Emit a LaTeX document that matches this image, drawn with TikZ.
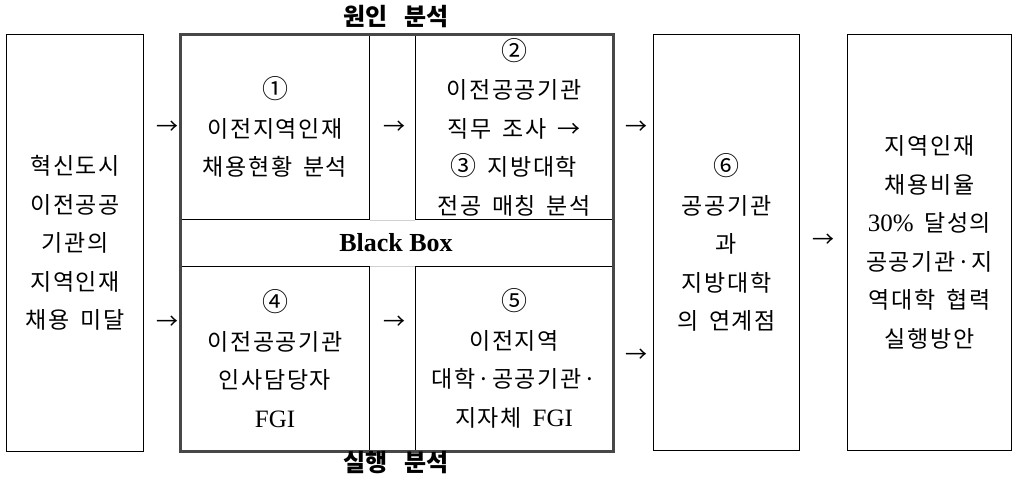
\documentclass[tikz,border=0pt]{standalone}
\usepackage{fontspec}
\setmainfont{Liberation Serif}
\newfontfamily\kr[LetterSpace=7,WordSpace=1.6]{Noto Sans CJK KR}
\newfontfamily\krt{Noto Sans CJK KR}
\newfontfamily\krtb[WordSpace=3]{Noto Sans CJK KR}
\newfontfamily\lt{Liberation Serif}
\newcommand\Lx[1]{{\lt\fontsize{25}{38}\selectfont #1}}
\newcommand\Cn[1]{{\krt\fontsize{26}{38}\selectfont #1}}
\tikzset{
  box/.style={draw=black, line width=1pt, anchor=north west, inner sep=0pt,
    align=center, font=\kr\fontsize{23}{38.5}\selectfont},
  arr/.style={font=\krt\fontsize{22}{26}\selectfont, inner sep=0pt},
  ttl/.style={font=\krtb\bfseries\fontsize{24}{26}\selectfont, inner sep=0pt},
  outerbox/.style={draw=black!72, line width=3pt},
  gapline/.style={draw=black!18, line width=1pt}
}
\begin{document}
\begin{tikzpicture}[x=1pt,y=-1pt]
\useasboundingbox (0,0) rectangle (1015,480);
% left box
\node[box, minimum width=137pt, minimum height=417pt] (L) at (6,34)
  {혁신도시\\이전공공\\기관의\\지역인재\\채용 미달};
% inner boxes
\node[box, minimum width=189pt, minimum height=185pt] (b1) at (180,34)
  {\Cn{①}\\이전지역인재\\채용현황 분석};
\node[box, minimum width=197pt, minimum height=185pt] (b2) at (415,34)
  {\Cn{②}\\이전공공기관\\직무 조사 →\\\Cn{③} 지방대학\\전공 매칭 분석};
\node[box, minimum width=189pt, minimum height=184pt] (b4) at (180,266)
  {\Cn{④}\\이전공공기관\\인사담당자\\\Lx{FGI}};
\node[box, minimum width=197pt, minimum height=184pt] (b5) at (415,266)
  {\Cn{⑤}\\이전지역\\대학·공공기관·\\지자체 \Lx{FGI}};
\draw[gapline] (b1.south east) -- (b2.south west);
\draw[gapline] (b4.north east) -- (b5.north west);
\node[inner sep=0pt, font=\lt\bfseries\fontsize{26}{30}\selectfont] (bb) at (396,242.5) {Black Box};
\draw[outerbox] (b1.north west) rectangle (b5.south east);
% box 6 and final box
\node[box, minimum width=146pt, minimum height=416pt] (b6) at (653,34)
  {\Cn{⑥}\\공공기관\\과\\지방대학\\의 연계점};
\node[box, minimum width=164pt, minimum height=416pt] (fin) at (847,34)
  {지역인재\\채용비율\\\Lx{30\%} 달성의\\공공기관·지\\역대학 협력\\실행방안};
% titles
\node[ttl] (t1) at (396,17) {원인 분석};
\node[ttl] (t2) at (396,463) {실행 분석};
% arrows (printed glyphs)
\node[arr] (a1) at (167,128) {→};
\node[arr] (a2) at (167,323) {→};
\node[arr] (a3) at (394,128) {→};
\node[arr] (a4) at (394,323) {→};
\node[arr] (a5) at (636,128) {→};
\node[arr] (a6) at (636,356) {→};
\node[arr] (a7) at (823,241) {→};
\end{tikzpicture}
\end{document}
